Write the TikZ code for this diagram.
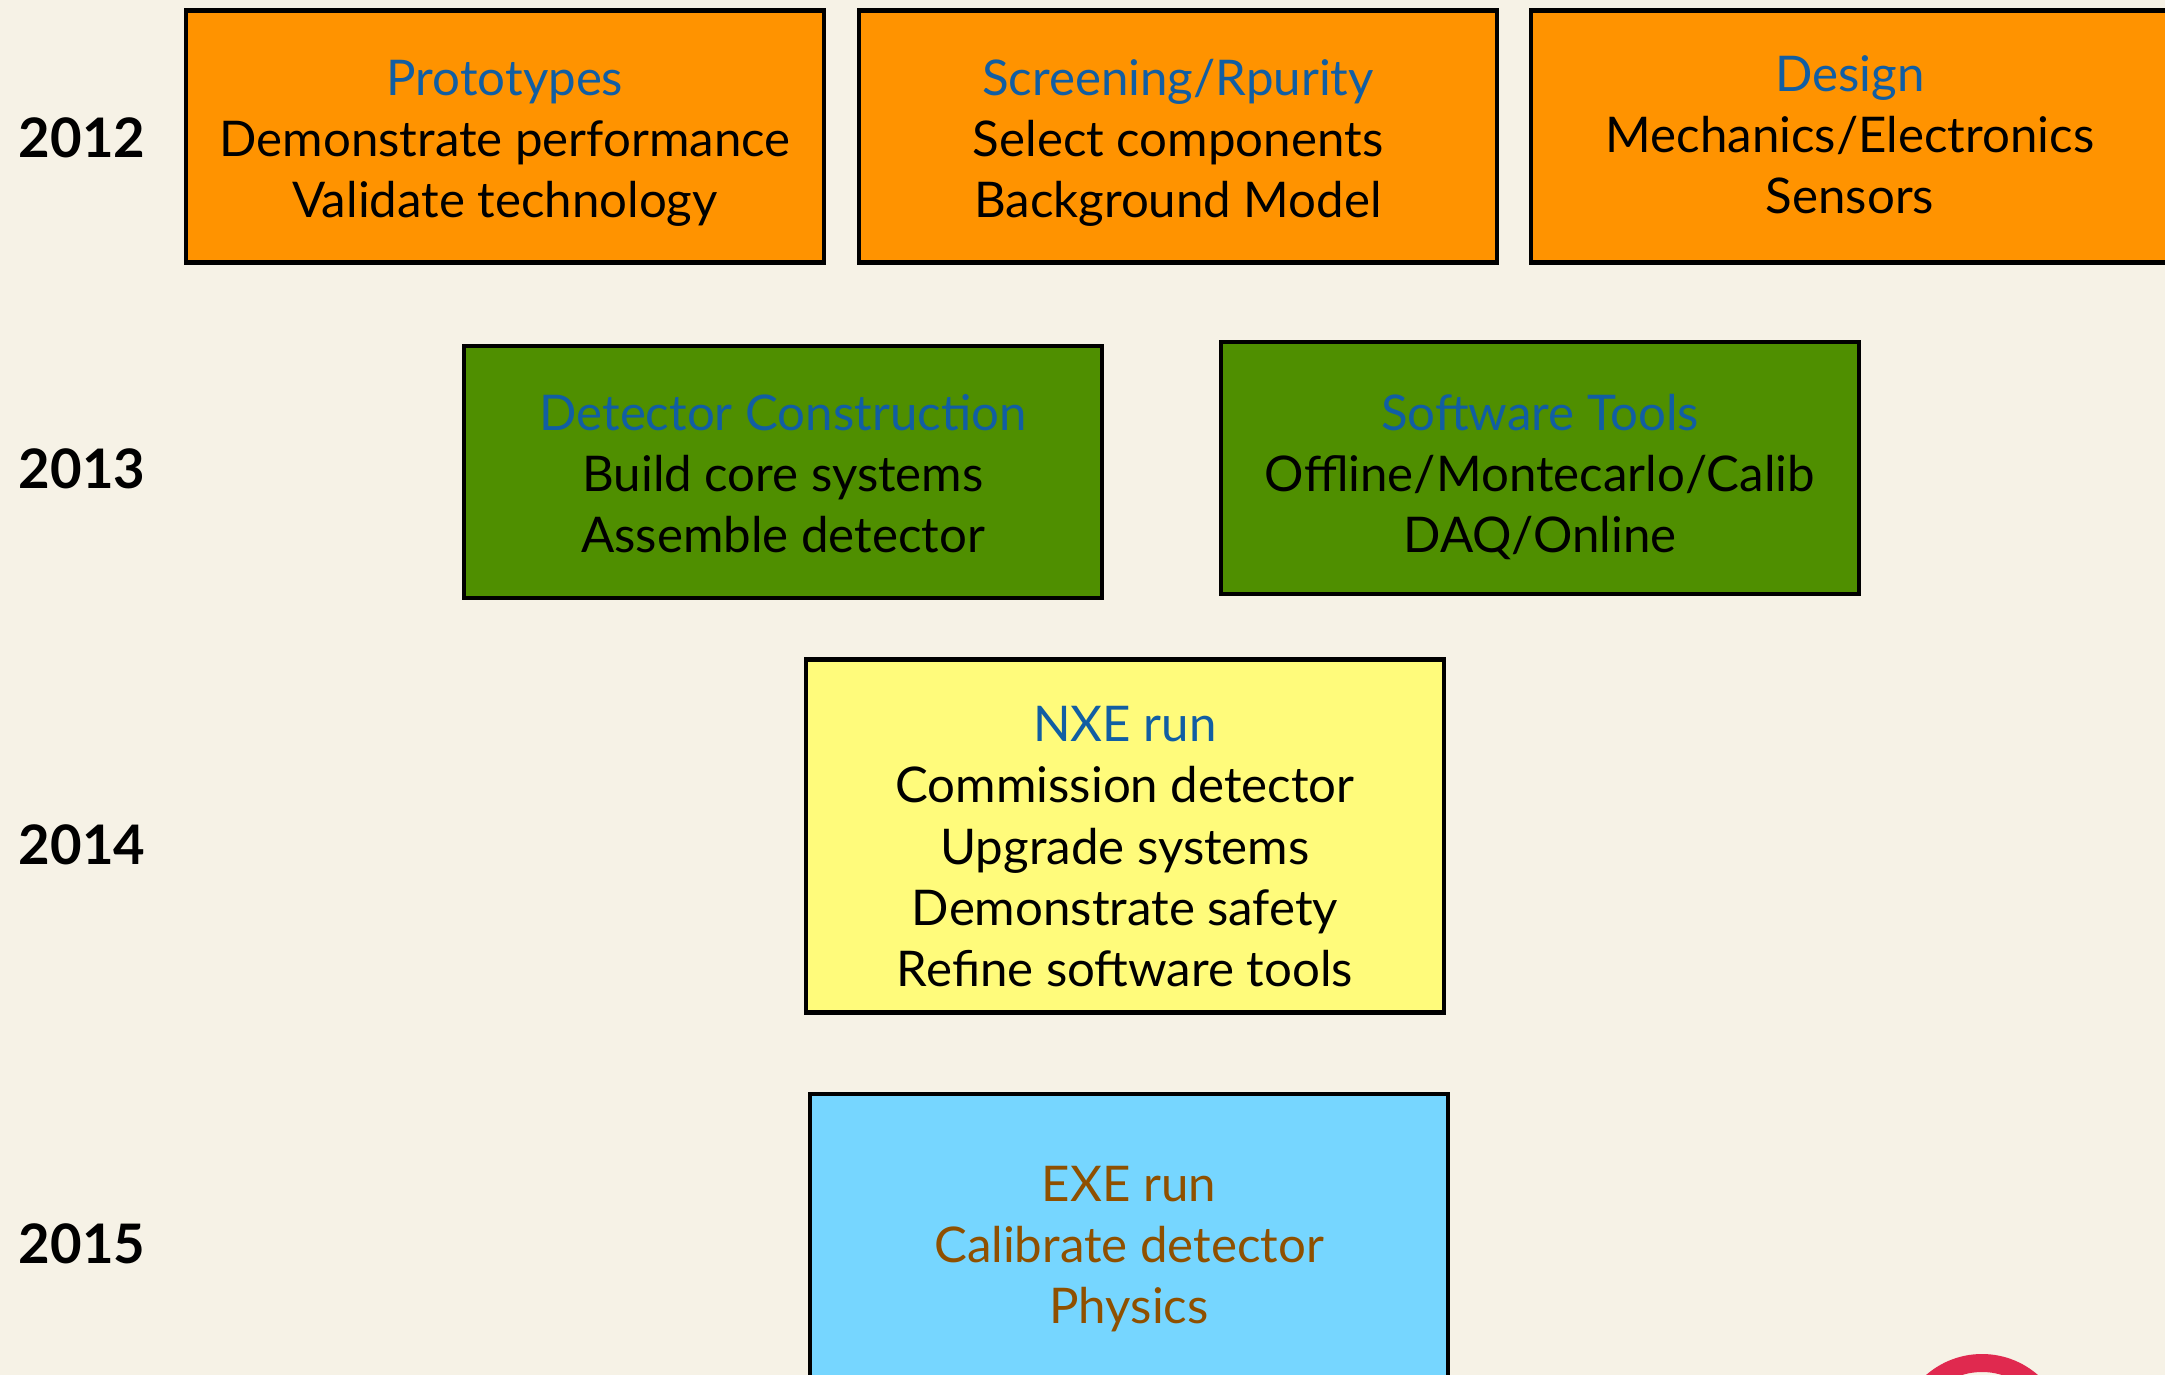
\documentclass[tikz,border=0pt]{standalone}
\usepackage{fontspec}
\setmainfont{Lato}
\definecolor{bgcream}{RGB}{246,242,230}
\definecolor{taskorange}{RGB}{255,147,0}
\definecolor{taskgreen}{RGB}{79,143,0}
\definecolor{taskyellow}{RGB}{255,251,123}
\definecolor{taskblue}{RGB}{118,214,255}
\definecolor{headblue}{RGB}{17,94,163}
\definecolor{headbrown}{RGB}{143,80,0}
\definecolor{logored}{RGB}{224,41,79}
\usetikzlibrary{positioning}

\begin{document}
\begin{tikzpicture}[
  x=1cm,y=1cm,
  every node/.style={font=\fontsize{14}{17.4}\selectfont},
  yearlabel/.style={font=\fontsize{15.5}{18}\selectfont\bfseries},
  % box centre sits midline above the last baseline
  midline/.code={\def\boxmid{#1}},
  taskbox/.style={draw=black,line width=1.2pt,minimum width=6.38cm,
                  minimum height=2.52cm,align=center,inner xsep=4pt,inner ysep=0pt,
                  midline=23pt,
                  execute at begin node={\rule{0pt}{\dimexpr\boxmid*2+4pt\relax}},
                  execute at end node={\rule[-4pt]{0pt}{0pt}}},
]
  \useasboundingbox (0,0) rectangle (21.65,-13.75);
  \fill[bgcream] (0,0) rectangle (21.65,-13.75);
  \clip (0,0) rectangle (21.65,-13.75);

  % Years
  \node[yearlabel] (y2012) at (0.82,-1.38) {2012};
  \node[yearlabel] (y2013) at (0.82,-4.69) {2013};
  \node[yearlabel] (y2014) at (0.82,-8.45) {2014};
  \node[yearlabel] (y2015) at (0.82,-12.44) {2015};

  % 2012: R&D tasks
  \node[taskbox,fill=taskorange] (proto) at (5.05,-1.365) {%
    \textcolor{headblue}{Prototypes}\\
    Demonstrate performance\\
    Validate technology
  };
  \node[taskbox,fill=taskorange] (screen) at (11.78,-1.365) {%
    \textcolor{headblue}{Screening/Rpurity}\\
    Select components\\
    Background Model
  };
  \node[taskbox,fill=taskorange,midline=22pt] (design) at (18.50,-1.365) {%
    \textcolor{headblue}{Design}\\
    Mechanics/Electronics\\
    Sensors
  };

  % 2013: construction
  \node[taskbox,fill=taskgreen] (detcon) at (7.83,-4.72) {%
    \textcolor{headblue}{Detector Construction}\\
    Build core systems\\
    Assemble detector
  };
  \node[taskbox,fill=taskgreen,midline=24pt] (software) at (15.40,-4.68) {%
    \textcolor{headblue}{Software Tools}\\
    Offline/Montecarlo/Calib\\
    DAQ/Online
  };

  % 2014: first run
  \node[taskbox,fill=taskyellow,minimum height=3.53cm,midline=42.8pt] (nxe) at (11.25,-8.36) {%
    \textcolor{headblue}{NXE run}\\
    Commission detector\\
    Upgrade systems\\
    Demonstrate safety\\
    Refine software tools
  };

  % 2015: second run
  \node[taskbox,fill=taskblue,minimum height=3.0cm,text=headbrown,midline=22.7pt] (exe) at (11.29,-12.44) {%
    EXE run\\
    Calibrate detector\\
    Physics
  };

  % logo ring, bottom corner
  \draw[logored,line width=0.18cm] (19.82,-14.39) circle (0.76);
\end{tikzpicture}
\end{document}
